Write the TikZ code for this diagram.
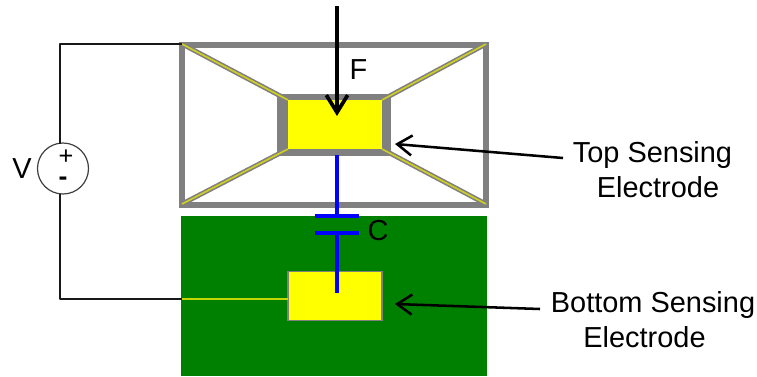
\documentclass[tikz,border=0pt]{standalone}
\usepackage{fontspec}
\setmainfont{Liberation Sans}
\usetikzlibrary{arrows.meta}
\definecolor{framegray}{HTML}{808080}
\definecolor{beamyellow}{HTML}{D0D020}
\definecolor{padyellow}{HTML}{FFFF00}
\definecolor{boardgreen}{HTML}{008000}
\definecolor{tracecol}{HTML}{C4D800}
\tikzset{
  px/.style={x=0.75pt,y=-0.75pt},
  box/.style={draw=none,inner sep=0pt,outer sep=0pt},
  beam/.style={draw=framegray,line width=3.6pt},
  beamcore/.style={draw=beamyellow,line width=1.2pt},
  wire/.style={draw=black!90,line width=2.2pt},
  blue line/.style={draw=blue,line width=2.6pt},
  plate/.style={draw=blue,line width=3.4pt},
  lbl/.style={inner sep=0pt,font=\fontsize{21.7}{26}\selectfont},
  pointer/.style={draw=black,line width=1.9pt,-{Straight Barb[length=11pt,width=15pt,line width=1.9pt]}},
}
\begin{document}
\begin{tikzpicture}[px]
\useasboundingbox (0,0) rectangle (757,376);
% frame
\node[box,draw=framegray,line width=4.6pt,minimum width=304*0.75pt,minimum height=160*0.75pt,anchor=north west] (frame) at (182,45) {};
% corner coordinates
\coordinate (tl) at (182,44);
\coordinate (tr) at (486,44);
\coordinate (bl) at (182,204);
\coordinate (br) at (486,204);
\coordinate (ctl) at (288,100);
\coordinate (ctr) at (382,100);
\coordinate (cbl) at (288,149);
\coordinate (cbr) at (382,149);
% beams
\foreach \a/\b in {tl/ctl,tr/ctr,bl/cbl,br/cbr}{\draw[beam] (\a) -- (\b);}
% central mass
\node[box,fill=framegray,minimum width=114*0.75pt,minimum height=62*0.75pt] (mass) at (334,125) {};
\node[box,fill=padyellow,minimum width=94*0.75pt,minimum height=49*0.75pt] (toppad) at (335,124.5) {};
\foreach \a/\b in {tl/ctl,tr/ctr,bl/cbl,br/cbr}{\draw[beamcore] (\a) -- (\b);}
% board
\node[box,fill=boardgreen,minimum width=306*0.75pt,minimum height=160*0.75pt,anchor=north west] (board) at (181,216) {};
\node[box,fill=padyellow,draw=framegray,line width=0.8pt,minimum width=94*0.75pt,minimum height=49*0.75pt] (botpad) at (335,296) {};
\coordinate (wirejoin) at (182,299);
\coordinate (padleft) at (288,299);
\draw[tracecol,line width=1.3pt] (wirejoin) -- (padleft);
% capacitor
\coordinate (mb) at (337,155);
\coordinate (p1) at (337,216);
\coordinate (p2) at (337,233);
\coordinate (pe) at (337,293);
\coordinate (p1l) at (315,216);
\coordinate (p1r) at (359,216);
\coordinate (p2l) at (315,233);
\coordinate (p2r) at (359,233);
\draw[blue line] (mb) -- (p1);
\draw[blue line] (p2) -- (pe);
\draw[plate] (p1l) -- (p1r);
\draw[plate] (p2l) -- (p2r);
% voltage source
\node[circle,draw=black!75,line width=0.9pt,fill=white,minimum size=51*0.75pt,inner sep=0pt] (src) at (63,168.5) {};
\node[inner sep=0pt,font=\fontsize{19}{20}\selectfont] (plus) at (66,157) {+};
\node[inner sep=0pt,font=\fontsize{20}{20}\selectfont\bfseries] (minus) at (63,181) {-};
\node[lbl] (V) at (22,169) {V};
\coordinate (wt) at (60,44);
\coordinate (wb) at (60,299);
\coordinate (srct) at (60,143.5);
\coordinate (srcb) at (60,193.5);
\draw[wire,line join=round] (srct) -- (wt) -- (tl);
\draw[wire,line join=round] (srcb) -- (wb) -- (wirejoin);
% force
\coordinate (fstart) at (337,6);
\coordinate (ftip) at (337,116);
\draw[draw=black,line width=3.2pt,-{Straight Barb[length=13pt,width=16pt,line width=2.8pt]}] (fstart) -- (ftip);
\node[lbl] (F) at (358.5,70) {F};
\node[lbl] (C) at (378,231) {C};
% labels
\node[lbl,anchor=base] (top1) at (652.5,162) {Top Sensing};
\node[lbl,anchor=base] (top2) at (658,197) {Electrode};
\node[lbl,anchor=base] (bot1) at (653,312) {Bottom Sensing};
\node[lbl,anchor=base] (bot2) at (644.5,347) {Electrode};
\coordinate (topfrom) at (563,158);
\coordinate (topto) at (395,144);
\coordinate (botfrom) at (540,309);
\coordinate (botto) at (395,304);
\draw[pointer] (topfrom) -- (topto);
\draw[pointer] (botfrom) -- (botto);
\end{tikzpicture}
\end{document}
